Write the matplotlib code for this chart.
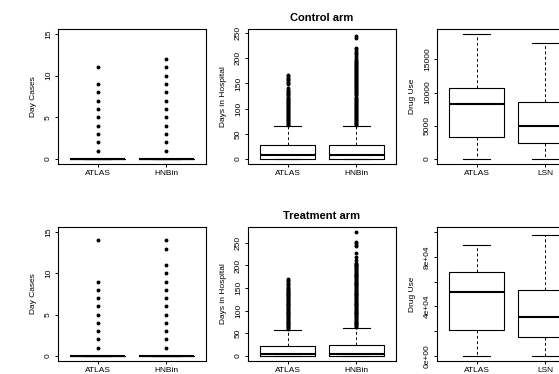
# Boxplots of resource use (day cases, hospital days, drug use) for the two trial arms

import matplotlib
matplotlib.use("Agg")
import matplotlib.pyplot as plt

plt.rcParams['font.family'] = ['Liberation Sans', 'DejaVu Sans']

labels_days = ["ATLAS", "HNBin"]
labels_drug = ["ATLAS", "LSN"]

# Day cases: all boxes collapse to 0, only outliers show
daycase_ctrl_lo = [0, 0]
daycase_ctrl_q1 = [0, 0]
daycase_ctrl_med = [0, 0]
daycase_ctrl_q3 = [0, 0]
daycase_ctrl_hi = [0, 0]
daycase_ctrl_out = [[1, 2, 3, 4, 5, 6, 7, 8, 9, 11],
                    [1, 2, 3, 4, 5, 6, 7, 8, 9, 10, 11, 12]]

daycase_trt_lo = [0, 0]
daycase_trt_q1 = [0, 0]
daycase_trt_med = [0, 0]
daycase_trt_q3 = [0, 0]
daycase_trt_hi = [0, 0]
daycase_trt_out = [[1, 2, 3, 4, 5, 6, 7, 8, 9, 14],
                   [1, 2, 3, 4, 5, 6, 7, 8, 9, 10, 11, 13, 14]]

# Days in hospital
hosp_ctrl_lo = [0, 0]
hosp_ctrl_q1 = [1, 1]
hosp_ctrl_med = [8, 8]
hosp_ctrl_q3 = [27, 27]
hosp_ctrl_hi = [66, 66]
hosp_ctrl_out = [
    [68, 70, 72, 74, 76, 78, 80, 82, 84, 86, 88, 90, 92, 94, 96, 98, 100, 102,
     104, 106, 108, 110, 112, 114, 116, 118, 120, 122, 124, 126, 128, 130, 132,
     134, 136, 140, 148, 151, 153, 156, 158, 161, 164, 167],
    [68, 70, 72, 74, 76, 78, 80, 82, 84, 86, 88, 90, 92, 94, 96, 98, 100, 102,
     104, 106, 108, 110, 112, 114, 116, 118, 120, 122, 124, 126, 128, 130, 132,
     134, 136, 138, 140, 142, 144, 146, 148, 150, 152, 154, 156, 158, 160, 162,
     164, 166, 168, 170, 172, 174, 176, 178, 180, 182, 184, 186, 188, 190, 192,
     194, 196, 200, 204, 208, 211, 215, 219, 221, 241, 245],
]

hosp_trt_lo = [0, 0]
hosp_trt_q1 = [0, 1]
hosp_trt_med = [5, 5]
hosp_trt_q3 = [23, 25]
hosp_trt_hi = [57, 61]
hosp_trt_out = [
    [60, 62, 64, 66, 68, 70, 72, 74, 76, 78, 80, 82, 84, 86, 88, 90, 92, 94, 96,
     98, 100, 102, 104, 106, 108, 110, 112, 114, 116, 118, 120, 122, 124, 126,
     128, 130, 132, 134, 136, 138, 140, 142, 144, 146, 148, 150, 153, 156, 159,
     162, 165, 168, 171],
    [64, 66, 68, 70, 72, 74, 76, 78, 80, 82, 84, 86, 88, 90, 92, 94, 96, 98, 100,
     102, 104, 106, 108, 110, 112, 114, 116, 118, 120, 122, 124, 126, 128, 130,
     132, 134, 136, 138, 140, 142, 144, 146, 148, 150, 152, 154, 156, 158, 160,
     162, 164, 166, 168, 170, 172, 174, 176, 178, 180, 182, 184, 186, 188, 190,
     192, 194, 196, 198, 200, 202, 204, 206, 212, 218, 228, 243, 246, 249, 252,
     274],
]

# Drug use
drug_ctrl_lo = [0, 0]
drug_ctrl_q1 = [3270, 2430]
drug_ctrl_med = [8230, 4990]
drug_ctrl_q3 = [10630, 8590]
drug_ctrl_hi = [18800, 17450]
drug_ctrl_out = [[], []]

drug_trt_lo = [0, 0]
drug_trt_q1 = [20800, 15200]
drug_trt_med = [51400, 31200]
drug_trt_q3 = [67700, 53000]
drug_trt_hi = [89600, 97600]
drug_trt_out = [[], []]


def draw_panel(ax, labels, lo, q1, med, q3, hi, out, ylabel, ylim, yticks, yticklabels):
    stats = []
    for i in range(len(labels)):
        stats.append(dict(whislo=lo[i], q1=q1[i], med=med[i], q3=q3[i],
                          whishi=hi[i], fliers=out[i], label=labels[i]))
    ax.bxp(stats, positions=[1, 2], widths=0.8, showfliers=True, manage_ticks=False,
           boxprops=dict(color='black', lw=0.8),
           medianprops=dict(color='black', lw=1.5),
           whiskerprops=dict(color='black', lw=0.7, linestyle=(0, (3, 2.5))),
           capprops=dict(color='black', lw=0.8),
           flierprops=dict(marker='o', markersize=1.8, markerfacecolor='black',
                           markeredgecolor='black', linestyle='none'))
    ax.set_xlim(0.42, 2.58)
    ax.set_ylim(ylim)
    ax.set_xticks([1, 2])
    ax.set_xticklabels(labels)
    ax.set_yticks(yticks)
    ax.set_yticklabels(yticklabels, rotation=90, va='center')
    ax.tick_params(length=2.4, width=0.7, labelsize=6, pad=2, colors='black')
    for s in ax.spines.values():
        s.set_linewidth(0.8)
    ax.set_ylabel(ylabel, fontsize=6)
    ax.yaxis.set_label_coords(-0.145, 0.5)


fig = plt.figure(figsize=(5.59, 3.74), dpi=100)
W, H = 559.0, 374.0
col_left = [58, 248, 437]
col_w = 148
row_top = [29, 227]
row_h = [135, 134]

axes = []
for r in range(2):
    row = []
    for c in range(3):
        row.append(fig.add_axes([col_left[c] / W, 1 - (row_top[r] + row_h[r]) / H,
                                 col_w / W, row_h[r] / H]))
    axes.append(row)

draw_panel(axes[0][0], labels_days, daycase_ctrl_lo, daycase_ctrl_q1, daycase_ctrl_med,
           daycase_ctrl_q3, daycase_ctrl_hi, daycase_ctrl_out, "Day Cases",
           (-0.6, 15.6), [0, 5, 10, 15], ["0", "5", "10", "15"])
draw_panel(axes[0][1], labels_days, hosp_ctrl_lo, hosp_ctrl_q1, hosp_ctrl_med,
           hosp_ctrl_q3, hosp_ctrl_hi, hosp_ctrl_out, "Days in Hospital",
           (-9.9, 257.9), [0, 50, 100, 150, 200, 250],
           ["0", "50", "100", "150", "200", "250"])
draw_panel(axes[0][2], labels_drug, drug_ctrl_lo, drug_ctrl_q1, drug_ctrl_med,
           drug_ctrl_q3, drug_ctrl_hi, drug_ctrl_out, "Drug Use",
           (-752, 19552), [0, 5000, 10000, 15000], ["0", "5000", "10000", "15000"])

draw_panel(axes[1][0], labels_days, daycase_trt_lo, daycase_trt_q1, daycase_trt_med,
           daycase_trt_q3, daycase_trt_hi, daycase_trt_out, "Day Cases",
           (-0.6, 15.6), [0, 5, 10, 15], ["0", "5", "10", "15"])
draw_panel(axes[1][1], labels_days, hosp_trt_lo, hosp_trt_q1, hosp_trt_med,
           hosp_trt_q3, hosp_trt_hi, hosp_trt_out, "Days in Hospital",
           (-11, 285), [0, 50, 100, 150, 200, 250],
           ["0", "50", "100", "150", "200", "250"])
draw_panel(axes[1][2], labels_drug, drug_trt_lo, drug_trt_q1, drug_trt_med,
           drug_trt_q3, drug_trt_hi, drug_trt_out, "Drug Use",
           (-4000, 104000), [0, 20000, 40000, 60000, 80000, 100000],
           ["0e+00", "", "4e+04", "", "8e+04", ""])

axes[0][1].set_title("Control arm", fontsize=8, fontweight='bold', pad=6)
axes[1][1].set_title("Treatment arm", fontsize=8, fontweight='bold', pad=6)

fig.savefig("out.png", dpi=100)
